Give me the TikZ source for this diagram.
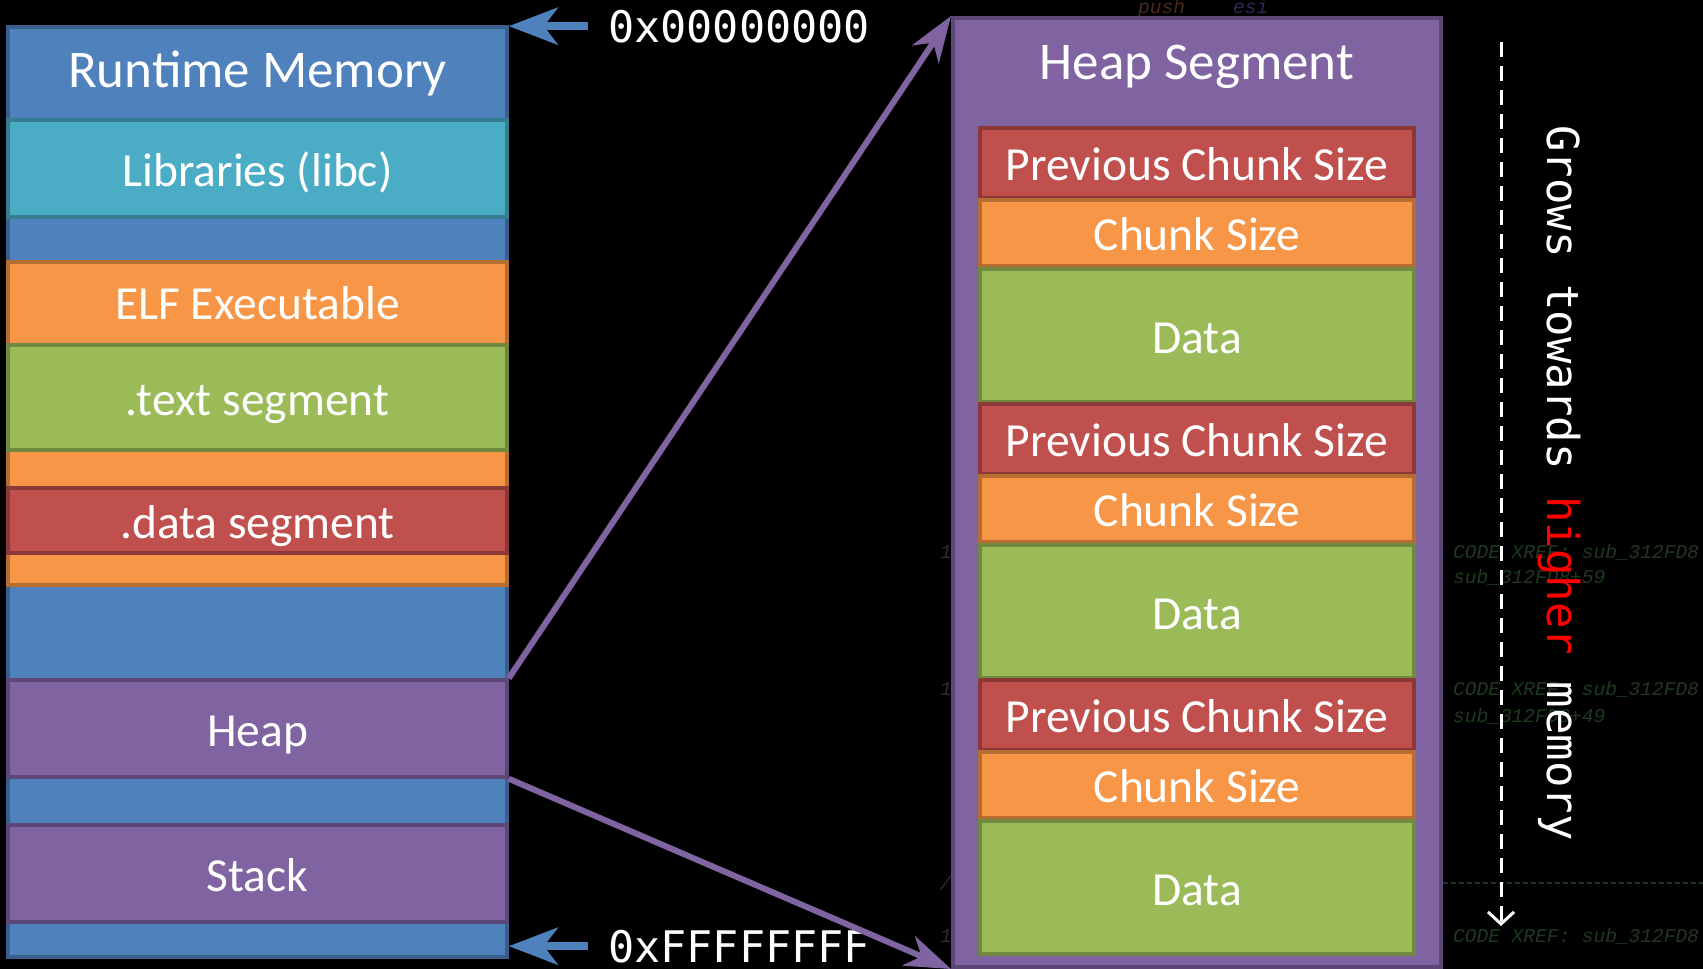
\documentclass[tikz,border=0pt]{standalone}
\usepackage{fontspec}
\setmainfont{Carlito}
\newfontfamily\monof{DejaVu Sans Mono}
\newfontfamily\ghostf{Liberation Mono}
\usetikzlibrary{arrows.meta}
\definecolor{cblue}{HTML}{4F81BD}
\definecolor{cblueB}{HTML}{3A5F8B}
\definecolor{ccyan}{HTML}{4BACC6}
\definecolor{ccyanB}{HTML}{357D91}
\definecolor{corange}{HTML}{F79646}
\definecolor{corangeB}{HTML}{B66D31}
\definecolor{cgreen}{HTML}{9BBB59}
\definecolor{cgreenB}{HTML}{71893F}
\definecolor{cred}{HTML}{C0504D}
\definecolor{credB}{HTML}{8C3836}
\definecolor{cpurple}{HTML}{8064A2}
\definecolor{cpurpleB}{HTML}{5C4776}
\definecolor{ghostgreen}{HTML}{1E3A1E}
\definecolor{ghostgray}{HTML}{2E2E2E}
\definecolor{ghostbrown}{HTML}{4A2A18}
\definecolor{ghostblue}{HTML}{2A2A55}
\begin{document}
\begin{tikzpicture}[x=1pt,y=-1pt,
  box/.style={draw, line width=3.5pt, inner sep=0pt, text=white,
    font=\fontsize{47.5}{50}\selectfont, text height=35.5pt, text depth=0pt},
  lbl/.style={inner sep=0pt, text=white, font=\fontsize{47.5}{50}\selectfont,
    text height=35.5pt, text depth=0pt},
  ttl/.style={inner sep=0pt, text=white, font=\fontsize{53}{55}\selectfont,
    text height=34.5pt, text depth=0pt},
  leftbox/.style={box, minimum width=499pt},
  chunkbox/.style={box, minimum width=434pt},
  addr/.style={anchor=base west, inner xsep=20pt, inner ysep=0pt, text=white,
    font=\monof\fontsize{43.5}{43.5}\selectfont},
  barrow/.style={draw=cblue, line width=8pt, -{Stealth[length=49pt,width=37pt,inset=14pt]}},
  parrow/.style={draw=cpurple, line width=6pt, -{Stealth[length=46pt,width=32pt,inset=14pt]}},
  ghost/.style={anchor=base west, inner sep=0pt, font=\ghostf\itshape\fontsize{19.5}{19.5}\selectfont}
]
\fill[black] (0,0) rectangle (1703,969);
\useasboundingbox (0,0) rectangle (1703,969);

% faint background text
\node[ghost, text=ghostbrown] (gpush) at (1138,13) {push};
\node[ghost, text=ghostblue] (gesi) at (1233,13) {esi};
\node[ghost, text=ghostgreen] (g1) at (1453,558) {CODE XREF: sub\_312FD8};
\node[ghost, text=ghostgreen] (g2) at (1453,583) {sub\_312FD8+59};
\node[ghost, text=ghostgreen] (g3) at (1453,695) {CODE XREF: sub\_312FD8};
\node[ghost, text=ghostgreen] (g4) at (1453,722) {sub\_312FD8+49};
\node[ghost, text=ghostgreen] (g5) at (1453,942) {CODE XREF: sub\_312FD8};
\node[ghost, text=ghostgray] (n1) at (940,558) {1};
\node[ghost, text=ghostgray] (n2) at (940,695) {1};
\node[ghost, text=ghostgray] (n3) at (940,889) {/};
\node[ghost, text=ghostgray] (n4) at (940,942) {1};
\coordinate (gl1) at (1443,883);
\coordinate (gl2) at (1703,883);
\draw[ghostgreen, line width=1.5pt, dash pattern=on 5pt off 3pt] (gl1) -- (gl2);

% left memory column
\node[leftbox, fill=cblue, draw=cblueB, minimum height=930pt] (mem) at (257.5,492) {};
\node[ttl] (rtm) at (257.5,70.5) {Runtime Memory};
\node[leftbox, fill=ccyan, draw=ccyanB, minimum height=97pt] (libs) at (257.5,168.5) {Libraries (libc)};
\node[leftbox, fill=corange, draw=corangeB, minimum height=323pt] (elf) at (257.5,423.5) {};
\node[lbl] (elflbl) at (257.5,301.5) {ELF Executable};
\node[leftbox, fill=cgreen, draw=cgreenB, minimum height=105pt] (text) at (257.5,397.5) {.text segment};
\node[leftbox, fill=cred, draw=credB, minimum height=65pt] (data) at (257.5,520.5) {.data segment};
\node[leftbox, fill=cpurple, draw=cpurpleB, minimum height=97pt] (heap) at (257.5,728.5) {Heap};
\node[leftbox, fill=cpurple, draw=cpurpleB, minimum height=97pt] (stack) at (257.5,873.5) {Stack};

% address labels
\node[addr] (lab0) at (588,42) {0x00000000};
\node[addr] (labF) at (588,962) {0xFFFFFFFF};
\draw[barrow] (lab0.west) -- (lab0.west -| mem.east);
\draw[barrow] (labF.west) -- (labF.west -| mem.east);

% heap segment
\node[box, fill=cpurple, draw=cpurpleB, line width=4pt, minimum width=488pt, minimum height=949pt] (hs) at (1197,492.5) {};
\node[ttl] (hstitle) at (1197,62) {Heap Segment};
\foreach \k in {0,1,2}{
  \node[chunkbox, fill=cred, draw=credB, minimum height=70pt] (prev\k) at (1197,163+276*\k) {Previous Chunk Size};
  \node[chunkbox, fill=corange, draw=corangeB, minimum height=66pt] (csz\k) at (1197,233+276*\k) {Chunk Size};
  \node[chunkbox, fill=cgreen, draw=cgreenB, minimum height=133pt] (dat\k) at (1197,335.5+276*\k) {Data};
}

% zoom connectors
\draw[parrow] (heap.north east) -- (hs.north west);
\draw[parrow] (heap.south east) -- (hs.south west);

% growth direction
\coordinate (gtop) at (1501,42);
\coordinate (gbot) at (1501,926);
\draw[white, line width=3pt, dash pattern=on 15pt off 9pt,
  -{Straight Barb[length=12pt,width=26pt]}] (gtop) -- (gbot);
\node[rotate=-90, anchor=base, inner sep=0pt, text=white,
  font=\monof\fontsize{44}{44}\selectfont] (grow) at (1547,483)
  {Grows towards \textcolor{red}{higher} memory};
\end{tikzpicture}
\end{document}
